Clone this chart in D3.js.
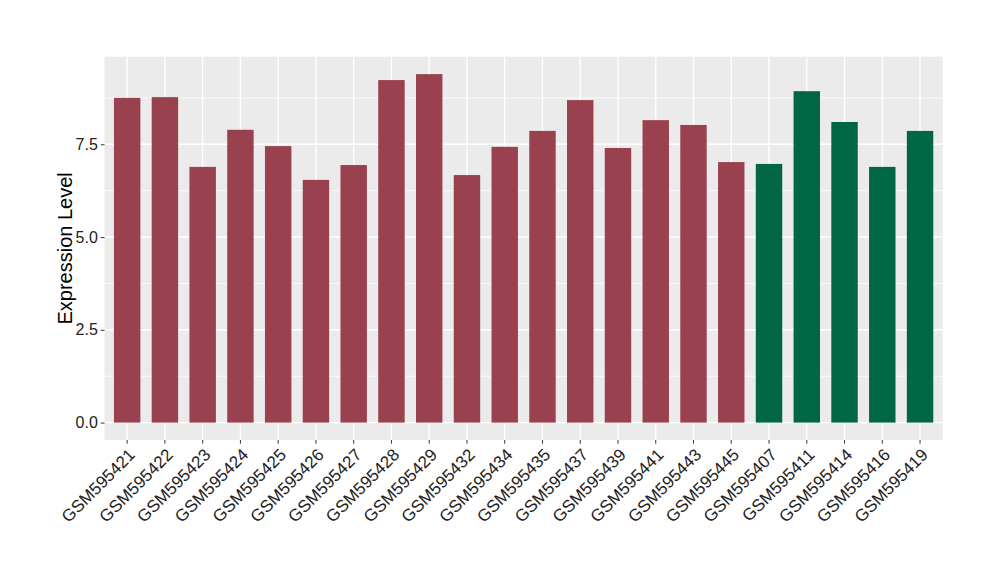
<!DOCTYPE html>
<html>
<head>
<meta charset="utf-8">
<script src="https://cdn.jsdelivr.net/npm/d3@7"></script>
<style>
  body { margin: 0; background: #fff; }
  svg { display: block; font-family: "Liberation Sans", Arial, sans-serif; }
</style>
</head>
<body>
<svg id="chart" width="1000" height="580"></svg>
<script>
const categories = ["GSM595421","GSM595422","GSM595423","GSM595424","GSM595425","GSM595426","GSM595427","GSM595428","GSM595429","GSM595432","GSM595434","GSM595435","GSM595437","GSM595439","GSM595441","GSM595443","GSM595445","GSM595407","GSM595411","GSM595414","GSM595416","GSM595419"];
const values = [8.75,8.77,6.89,7.89,7.45,6.54,6.94,9.23,9.39,6.67,7.43,7.86,8.69,7.40,8.15,8.02,7.02,6.97,8.93,8.10,6.89,7.86];
const groups = ["A","A","A","A","A","A","A","A","A","A","A","A","A","A","A","A","A","B","B","B","B","B"];
const yTicks = [0, 2.5, 5, 7.5];
const yMinor = [1.25, 3.75, 6.25, 8.75];
const groupColors = {A: "#9A4150", B: "#006644"};

const svg = d3.select("#chart");
const panel = {left: 104.5, right: 942.7, top: 56.7, bottom: 440};

const maxV = d3.max(values);
const pad = maxV * 0.05;
const y = d3.scaleLinear().domain([-pad, maxV + pad]).range([panel.bottom, panel.top]);
const x = d3.scaleBand().domain(categories).range([panel.left, panel.right]).paddingInner(0.3).paddingOuter(0.25);

svg.append("rect").attr("x", panel.left).attr("y", panel.top)
  .attr("width", panel.right - panel.left).attr("height", panel.bottom - panel.top)
  .attr("fill", "#EBEBEB");

const g = svg.append("g");
g.selectAll(".ymin").data(yMinor).enter().append("line")
  .attr("x1", panel.left).attr("x2", panel.right)
  .attr("y1", d => y(d)).attr("y2", d => y(d))
  .attr("stroke", "#fff").attr("stroke-width", 0.7);
g.selectAll(".ymaj").data(yTicks).enter().append("line")
  .attr("x1", panel.left).attr("x2", panel.right)
  .attr("y1", d => y(d)).attr("y2", d => y(d))
  .attr("stroke", "#fff").attr("stroke-width", 1.4);
g.selectAll(".xmaj").data(categories).enter().append("line")
  .attr("x1", d => x(d) + x.bandwidth()/2).attr("x2", d => x(d) + x.bandwidth()/2)
  .attr("y1", panel.top).attr("y2", panel.bottom)
  .attr("stroke", "#fff").attr("stroke-width", 1.4);

svg.selectAll(".bar").data(categories).enter().append("rect")
  .attr("x", d => x(d))
  .attr("width", x.bandwidth())
  .attr("y", (d, i) => y(values[i]))
  .attr("height", (d, i) => y(0) - y(values[i]))
  .attr("fill", (d, i) => groupColors[groups[i]]);

// Y axis
const yAxis = d3.axisLeft(y).tickValues(yTicks).tickFormat(d3.format(".1f")).tickSize(3.7).tickPadding(3);
const ya = svg.append("g").attr("transform", `translate(${panel.left},0)`).call(yAxis);
ya.attr("font-size", null).attr("font-family", null);
ya.select(".domain").remove();
ya.selectAll(".tick line").attr("stroke", "#333");
ya.selectAll(".tick text").attr("fill", "#222").attr("font-size", 16);

// X axis
const xAxis = d3.axisBottom(x).tickSize(3.7).tickPadding(3);
const xa = svg.append("g").attr("transform", `translate(0,${panel.bottom})`).call(xAxis);
xa.attr("font-size", null).attr("font-family", null);
xa.select(".domain").remove();
xa.selectAll(".tick line").attr("stroke", "#333");
xa.selectAll(".tick text")
  .attr("fill", "#222").attr("font-size", 17)
  .attr("text-anchor", "end")
  .attr("x", 0).attr("y", 0).attr("dy", "0.74em")
  .attr("transform", "translate(0,7) rotate(-45)");

svg.append("text")
  .attr("transform", `translate(72,${(panel.top + panel.bottom)/2}) rotate(-90)`)
  .attr("text-anchor", "middle")
  .attr("fill", "#000")
  .attr("font-size", 20)
  .text("Expression Level");
</script>
</body>
</html>
